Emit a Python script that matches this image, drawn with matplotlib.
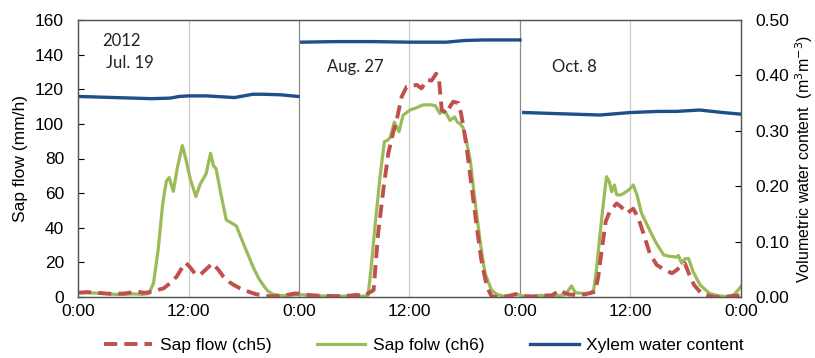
import numpy as np
import matplotlib
matplotlib.use("Agg")
import matplotlib.pyplot as plt

plt.rcParams['font.family'] = 'sans-serif'
plt.rcParams['font.sans-serif'] = ['Liberation Sans']

# hours from 0:00 on Jul. 19 (three separate days laid side by side)
ch5_t = [0, 1, 2, 3, 4, 5, 6, 6.5, 7, 7.5, 8.3, 9.3, 10.0, 10.7, 11.2, 11.7, 12.2, 12.7, 13.25, 13.8,
         14.6, 15.2, 15.8, 16.4, 16.9, 17.6, 18.3, 19.2, 20.1, 21, 22, 23, 23.5, 24,
         25, 26, 28, 29.5, 30.3, 31, 32.1, 32.6, 33.2, 33.7, 34.25, 34.6, 35.15, 35.7, 36.3, 36.8,
         37.3, 37.9, 38.4, 38.9, 39.2, 39.5, 40.0, 40.4, 40.75, 41.3, 41.6, 41.85, 42.2, 42.75, 43.3,
         43.8, 44.4, 44.9, 45.5, 46.5, 47.5, 48,
         48.5, 49.5, 50.5, 51.5, 52.3, 52.8, 53.3, 54, 55, 56.15, 56.5, 56.9, 57.3, 57.8, 58.5, 59.0,
         59.6, 60.3, 60.85, 61.4, 62.1, 62.85, 63.75, 64.5, 65.0, 65.4, 65.9, 66.4, 66.9, 67.7, 69.0,
         70, 71, 72]
ch5_v = [2.5, 2.8, 2.5, 2, 1.8, 2, 2.8, 3.2, 2.5, 2.5, 3.6, 5, 8, 11.7, 16, 19.8, 17, 13.5, 12.7, 15.5,
         19.4, 16, 11.7, 8.8, 7, 5, 3.5, 1.8, 0.8, 0.4, 0.6, 1.5, 2, 2,
         1.2, 0.8, 0.5, 0.8, 1.2, 0.5, 4, 37, 63.7, 83, 95.5, 102, 115.7, 121.5, 122, 122.5,
         120.5, 125.4, 125, 129, 126, 108, 106, 110, 112.8, 112, 106, 98.4, 86.8, 63.7, 40.6,
         21.4, 6, 0.5, 0, 0.3, 1.5, 1,
         0.5, 0.3, 0.8, 1, 4, 2.5, 1.5, 1.2, 1.5, 3, 11.7, 28, 43.5, 50, 54, 52,
         48.4, 51, 45.5, 36.8, 25, 18.5, 15.6, 13.7, 15.5, 17.5, 19.5, 12.7, 7, 2, 0,
         0, 0.5, 1]

ch6_t = [0, 1, 2, 3, 4, 5, 6, 7, 7.7, 8.2, 8.7, 9.2, 9.6, 9.9, 10.35, 10.8, 11.33, 11.7, 12.2, 12.8,
         13.25, 13.9, 14.4, 14.7, 15.0, 15.5, 16.1, 16.6, 17.2, 17.95, 18.5, 19.0, 19.6, 20.1, 20.6,
         21.2, 22, 23, 24,
         24.5, 25.5, 27, 29, 31, 31.5, 31.8, 32.25, 32.8, 33.27, 33.6, 33.9, 34.35, 34.86, 35.3, 36.05,
         36.6, 37.5, 38.3, 38.8, 39.3, 39.6, 39.9, 40.2, 40.4, 40.9, 41.2, 41.5, 41.8, 42.0, 42.6,
         43.1, 43.7, 44.2, 44.9, 45.5, 46.2, 47, 47.5, 48,
         48.5, 49.5, 50.2, 51, 52, 52.9, 53.6, 54, 55, 55.6, 56.0, 56.3, 56.7, 57.05, 57.4, 57.7,
         57.96, 58.25, 58.5, 59.0, 59.8, 60.3, 60.7, 61.2, 61.9, 62.7, 63.6, 64.2, 64.65, 65.0, 65.2,
         65.56, 65.9, 66.3, 66.8, 67.55, 68.6, 69.5, 70.4, 71, 71.35, 72]
ch6_v = [2.5, 2.5, 2.2, 2, 1.5, 1.5, 1.8, 1.5, 2, 8, 27, 54, 67, 69, 61, 75, 87.5, 80, 68, 58,
         65, 71, 83, 76, 74, 60, 44.5, 43, 41, 31, 24, 17.5, 11, 7, 3.5,
         1.5, 0.8, 1, 1.5,
         1.2, 0.8, 0.5, 0.5, 0.5, 1, 15, 40.6, 69.5, 89.7, 90.5, 92, 101, 95.5, 105, 108,
         109, 111, 111, 110.5, 106, 108, 107, 104, 102, 104, 101, 100, 98, 94.6, 79,
         56, 31, 13.7, 4, 1.5, 0.5, 1, 2, 1,
         0.5, 0.3, 1, 0.5, 0.8, 1.2, 6.4, 2.5, 2, 2, 4, 15.6, 36.8, 54, 69.5, 66.6,
         60.8, 64.7, 59, 59, 61.8, 64.7, 59, 48.4, 40.6, 32, 24.3, 23.5, 23.3, 23, 24,
         19.5, 22, 22.3, 14.6, 7, 2, 0.8, 0.2, 0.8, 2, 6]

# xylem water content (m3 m-3), one piece per day
xyl1_t = [0, 2, 4, 6, 8, 10, 11, 12, 14, 16, 17, 18, 19, 20, 22, 23.9]
xyl1_v = [0.362, 0.361, 0.360, 0.359, 0.358, 0.359, 0.362, 0.363, 0.363, 0.361, 0.360, 0.363,
          0.366, 0.366, 0.365, 0.362]
xyl2_t = [24.3, 28, 32, 36, 40, 42, 44, 48]
xyl2_v = [0.460, 0.461, 0.461, 0.460, 0.460, 0.463, 0.464, 0.464]
xyl3_t = [48.4, 52, 56.7, 60, 63, 65, 67.5, 70, 72]
xyl3_v = [0.333, 0.331, 0.3285, 0.333, 0.335, 0.335, 0.3375, 0.333, 0.330]

tick_hours = [0, 12, 24, 36, 48, 60, 72]
tick_labels = ['0:00', '12:00', '0:00', '12:00', '0:00', '12:00', '0:00']

red = '#c0504d'
green = '#9bbb59'
navy = '#1f4e8a'
fs = 12.5

fig = plt.figure(figsize=(8.15, 3.58), dpi=100)
ax = fig.add_axes([78/815, 1-297/358, 663/815, 277/358])
ax2 = ax.twinx()

for h in [12, 36, 60]:
    ax.axvline(h, color='#cccccc', lw=0.9, zorder=0)
for h in [24, 48]:
    ax.axvline(h, color='#8c8c8c', lw=0.9, zorder=0)

l1, = ax.plot(ch5_t, ch5_v, color=red, lw=2.8, ls=(0, (3.4, 1.8)), label='Sap flow (ch5)', zorder=3)
l2, = ax.plot(ch6_t, ch6_v, color=green, lw=2.3, label='Sap folw (ch6)', zorder=2)
l3, = ax2.plot(xyl1_t, xyl1_v, color=navy, lw=2.4, label='Xylem water content')
ax2.plot(xyl2_t, xyl2_v, color=navy, lw=2.4)
ax2.plot(xyl3_t, xyl3_v, color=navy, lw=2.4)

ax.set_xlim(0, 72)
ax.set_ylim(0, 160)
ax2.set_ylim(0, 0.5)
ax.set_yticks(np.arange(0, 161, 20))
ax2.set_yticks(np.arange(0, 0.51, 0.1))
ax2.set_yticklabels(['%.2f' % v for v in np.arange(0, 0.51, 0.1)])
ax.set_xticks(tick_hours)
ax.set_xticklabels(tick_labels)

ax.tick_params(axis='x', length=0, pad=5, labelsize=fs)
ax.tick_params(axis='y', direction='in', length=4, pad=10, labelsize=fs)
ax2.tick_params(axis='y', direction='in', length=4, pad=10, labelsize=fs)
for a in (ax, ax2):
    for s in a.spines.values():
        s.set_color('#555555')
        s.set_linewidth(0.9)

ax.set_ylabel('Sap flow (mm/h)', fontsize=fs, labelpad=5)
ax2.set_ylabel('Volumetric water content  (m$^3$m$^{-3}$)', fontsize=11.5, labelpad=3)

ann = dict(fontsize=12, family=['Lato', 'DejaVu Sans'], color='#222222', va='center')
ax.text(2.6, 148, '2012', **ann)
ax.text(3.0, 135, 'Jul. 19', **ann)
ax.text(27.0, 133, 'Aug. 27', **ann)
ax.text(51.5, 133, 'Oct. 8', **ann)

fig.legend(handles=[l1, l2, l3], loc='center', bbox_to_anchor=(0.52, 0.036), ncol=3,
           frameon=False, fontsize=fs, handlelength=2.8, handletextpad=0.45,
           columnspacing=2.6)

fig.savefig('out.png', dpi=100)
